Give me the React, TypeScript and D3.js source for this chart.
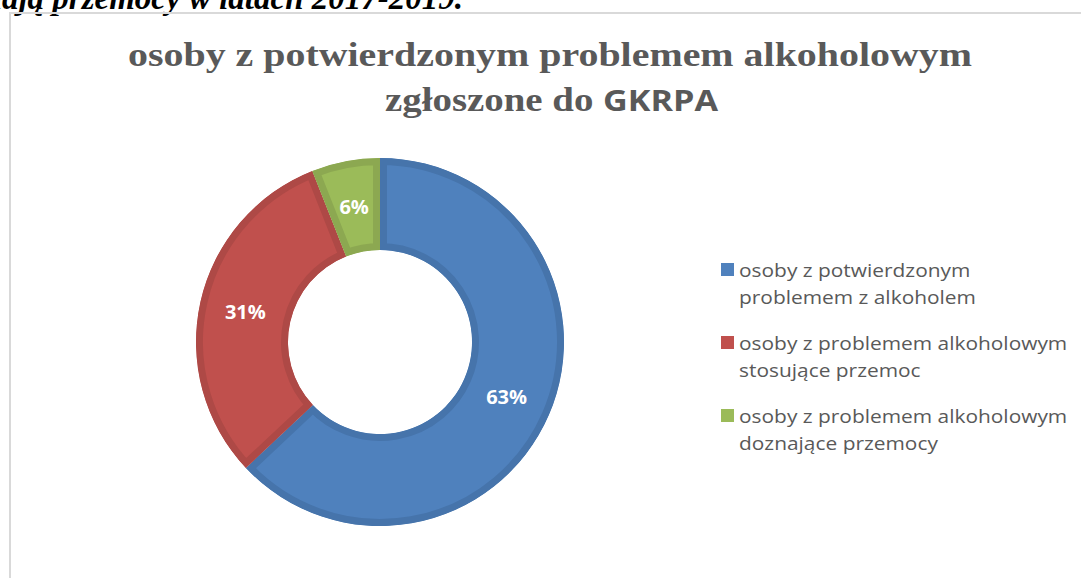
import React from "react";
import * as d3 from "d3";

const categories = [
  "osoby z potwierdzonym problemem z alkoholem",
  "osoby z problemem alkoholowym stosujące przemoc",
  "osoby z problemem alkoholowym doznające przemocy",
];
const legendLines = [
  ["osoby z potwierdzonym", "problemem z alkoholem"],
  ["osoby z problemem alkoholowym", "stosujące przemoc"],
  ["osoby z problemem alkoholowym", "doznające przemocy"],
];
const values = [63, 31, 6];
const fills = ["#4F81BD", "#C0504D", "#9BBB59"];
const borders = ["#4674AB", "#AE4946", "#8CA851"];

const W = 1081;
const H = 578;
const cx = 380;
const cy = 342;
const rOuter = 184;
const rInner = 92;

export default function App() {
  const pie = d3.pie<number>().sort(null).value((d) => d);
  const arcs = pie(values);
  const arc = d3.arc<d3.PieArcDatum<number>>().innerRadius(rInner).outerRadius(rOuter);
  const total = d3.sum(values);

  return (
    <div style={{ position: "absolute", left: 0, top: 0 }}>
      <svg width={W} height={H} style={{ display: "block" }}>
        <rect x={0} y={0} width={W} height={H} fill="#fff" />
        <text
          x={463}
          y={9}
          textAnchor="end"
          fontFamily="'Liberation Serif', serif"
          fontWeight="bold"
          fontStyle="italic"
          fontSize={33}
          fill="#000"
        >
          osoby z problemem alkoholowym doznają przemocy w latach 2017-2019.
        </text>
        <rect x={10} y={13} width={W + 20} height={H + 20} fill="none" stroke="#D9D9D9" strokeWidth={2} />
        <g fill="#595959" fontWeight="bold">
          <text
            x={128}
            y={66}
            fontFamily="'Liberation Serif', serif"
            fontSize={33}
            textLength={844}
            lengthAdjust="spacingAndGlyphs"
          >
            osoby z potwierdzonym problemem alkoholowym
          </text>
          <text x={385} y={111} fontSize={33} textLength={333} lengthAdjust="spacingAndGlyphs">
            <tspan fontFamily="'Liberation Serif', serif">zgłoszone do </tspan>
            <tspan fontFamily="'Open Sans', sans-serif" fontSize={29}>GKRPA</tspan>
          </text>
        </g>
        <g transform={`translate(${cx},${cy})`}>
          <defs>
            {arcs.map((a, i) => (
              <clipPath id={`clip${i}`} key={i}>
                <path d={arc(a) || ""} />
              </clipPath>
            ))}
          </defs>
          {arcs.map((a, i) => (
            <path
              key={i}
              d={arc(a) || ""}
              fill={fills[i]}
              stroke={borders[i]}
              strokeWidth={14}
              clipPath={`url(#clip${i})`}
            />
          ))}
          {arcs.map((a, i) => {
            const [x, y] = arc.centroid(a);
            return (
              <text
                key={`l${i}`}
                x={x}
                y={y}
                dy="0.36em"
                textAnchor="middle"
                fill="#fff"
                fontFamily="'Open Sans', sans-serif"
                fontWeight="bold"
                fontSize={20}
              >
                {Math.round((values[i] / total) * 100)}%
              </text>
            );
          })}
        </g>
        <g fontFamily="'Open Sans', sans-serif" fontSize={19} fill="#595959">
          {categories.map((c, i) => {
            const y0 = 277 + i * 73;
            return (
              <g key={c}>
                <rect x={721} y={y0 - 14} width={13} height={13} fill={fills[i]} />
                <g transform={`translate(739,0) scale(1.1,1)`}>
                  <text x={0} y={y0}>{legendLines[i][0]}</text>
                  <text x={0} y={y0 + 27}>{legendLines[i][1]}</text>
                </g>
              </g>
            );
          })}
        </g>
      </svg>
    </div>
  );
}
